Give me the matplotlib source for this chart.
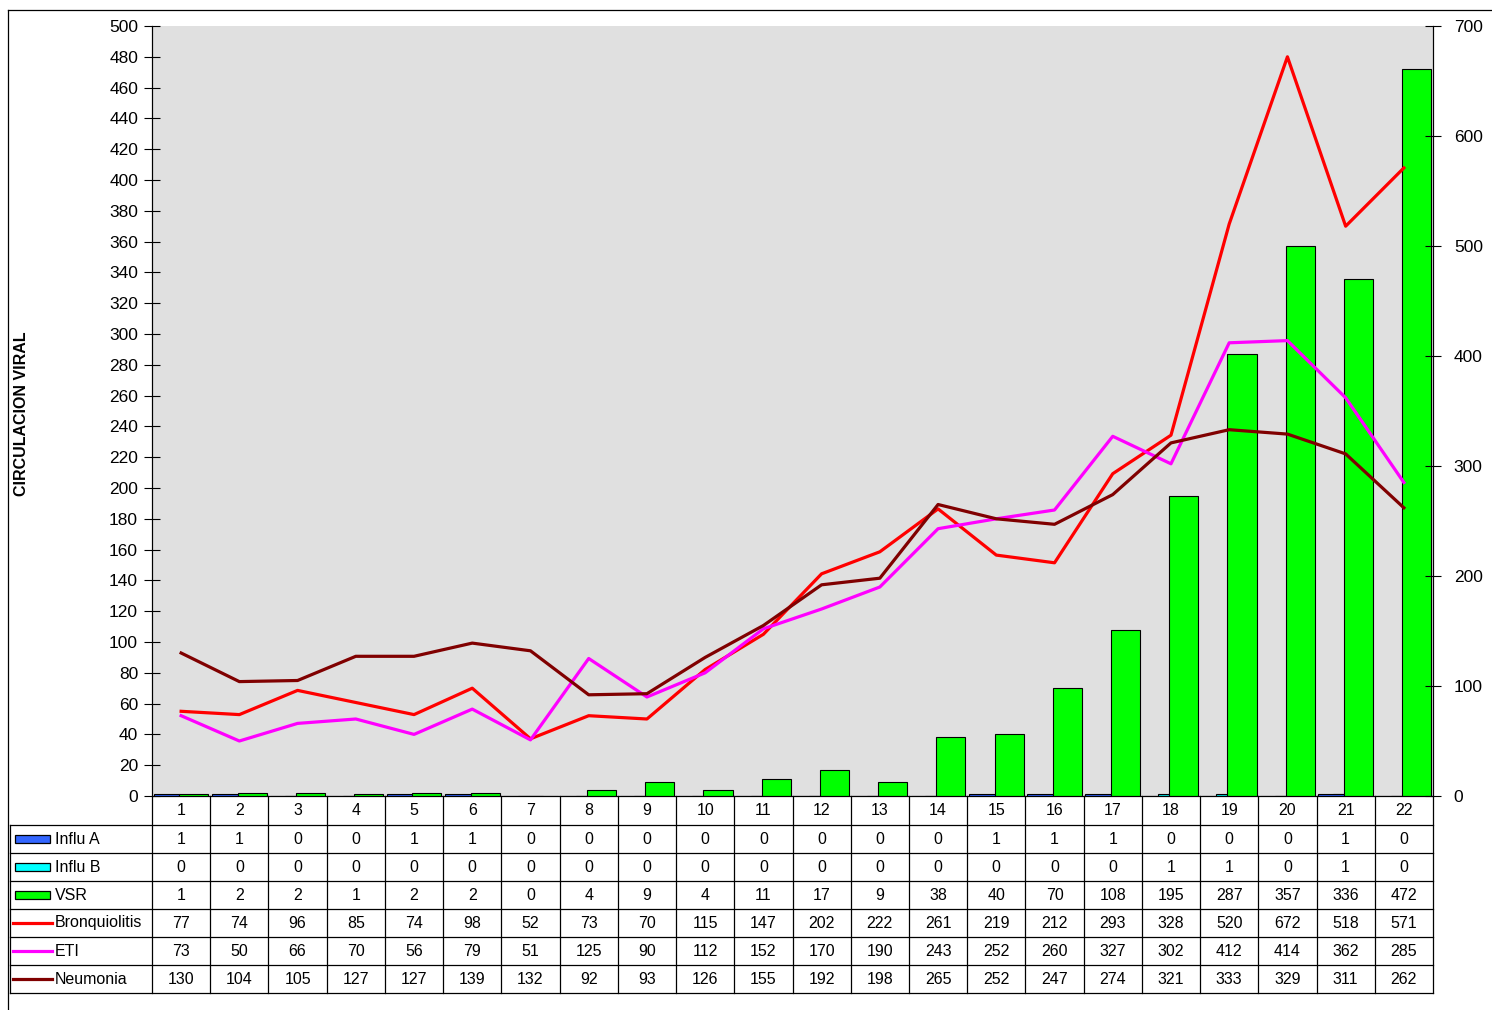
import matplotlib
matplotlib.use('Agg')
import matplotlib.pyplot as plt
from matplotlib.lines import Line2D
from matplotlib.patches import Rectangle
import numpy as np

plt.rcParams['font.family'] = ['Liberation Sans', 'DejaVu Sans']

weeks = list(range(1, 23))
influ_a = [1, 1, 0, 0, 1, 1, 0, 0, 0, 0, 0, 0, 0, 0, 1, 1, 1, 0, 0, 0, 1, 0]
influ_b = [0, 0, 0, 0, 0, 0, 0, 0, 0, 0, 0, 0, 0, 0, 0, 0, 0, 1, 1, 0, 1, 0]
vsr = [1, 2, 2, 1, 2, 2, 0, 4, 9, 4, 11, 17, 9, 38, 40, 70, 108, 195, 287, 357, 336, 472]
bronquiolitis = [77, 74, 96, 85, 74, 98, 52, 73, 70, 115, 147, 202, 222, 261, 219, 212,
                 293, 328, 520, 672, 518, 571]
eti = [73, 50, 66, 70, 56, 79, 51, 125, 90, 112, 152, 170, 190, 243, 252, 260,
       327, 302, 412, 414, 362, 285]
neumonia = [130, 104, 105, 127, 127, 139, 132, 92, 93, 126, 155, 192, 198, 265, 252, 247,
            274, 321, 333, 329, 311, 262]

W, H = 1492, 1010
fig = plt.figure(figsize=(W / 100, H / 100), dpi=100)


def fx(px):
    return px / W


def fy(py):
    return 1 - py / H


L, R, T, B = 152, 1433, 26, 796
ax = fig.add_axes([fx(L), fy(B), fx(R) - fx(L), fy(T) - fy(B)])
ax.set_facecolor('#e0e0e0')
x = np.array(weeks)

ax.bar(x - 0.25, influ_a, width=0.44, color='#3366ff', edgecolor='black', linewidth=0.8, zorder=2)
ax.bar(x, influ_b, width=0.44, color='#00ffff', edgecolor='black', linewidth=0.8, zorder=1)
ax.bar(x + 0.22, vsr, width=0.5, color='#00ff00', edgecolor='black', linewidth=0.8, zorder=3)
ax.set_xlim(0.5, 22.5)
ax.set_ylim(0, 500)
ax.set_yticks(range(0, 501, 20))
ax.set_xticks([])
ax.tick_params(axis='y', direction='inout', length=12, labelsize=12.5, pad=4)
ax.set_ylabel('CIRCULACION VIRAL', fontsize=11.5, fontweight='bold')
ax.yaxis.set_label_coords(-0.096, 0.497)
ax.spines['top'].set_visible(False)

ax2 = ax.twinx()
ax2.plot(x, bronquiolitis, color='#ff0000', lw=2.3, zorder=5)
ax2.plot(x, eti, color='#ff00ff', lw=2.3, zorder=5)
ax2.plot(x, neumonia, color='#800000', lw=2.3, zorder=5)
ax2.set_ylim(0, 700)
ax2.set_yticks(range(0, 701, 100))
ax2.tick_params(axis='y', direction='inout', length=12, labelsize=12.5, pad=9)
ax2.spines['top'].set_visible(False)
fig.text(fx(1497), fy(411), 'IRA', rotation=-90, fontsize=11, fontweight='bold',
         ha='center', va='center')

# data table
ncol = len(weeks)
colw = (R - L) / ncol
rows_y = [796, 825, 853, 881, 909, 937, 965, 993]
lk = dict(color='black', lw=0.9, transform=fig.transFigure)
for yy in rows_y[1:]:
    fig.add_artist(Line2D([fx(10), fx(R)], [fy(yy), fy(yy)], **lk))
fig.add_artist(Line2D([fx(10), fx(10)], [fy(825), fy(993)], **lk))
for k in range(ncol + 1):
    xx = L + k * colw
    fig.add_artist(Line2D([fx(xx), fx(xx)], [fy(796), fy(993)], **lk))

table_rows = [weeks, influ_a, influ_b, vsr, bronquiolitis, eti, neumonia]
for r, vals in enumerate(table_rows):
    yc = (rows_y[r] + rows_y[r + 1]) / 2
    for k, v in enumerate(vals):
        fig.text(fx(L + (k + 0.5) * colw), fy(yc), str(v), fontsize=11.5,
                 ha='center', va='center')

names = ['Influ A', 'Influ B', 'VSR', 'Bronquiolitis', 'ETI', 'Neumonia']
colors = ['#3366ff', '#00ffff', '#00ff00', '#ff0000', '#ff00ff', '#800000']
for r, (nm, c) in enumerate(zip(names, colors)):
    yc = (rows_y[r + 1] + rows_y[r + 2]) / 2
    if r < 3:
        fig.add_artist(Rectangle((fx(15), fy(yc + 4)), fx(50) - fx(15), fy(yc - 4) - fy(yc + 4),
                                 facecolor=c, edgecolor='black', lw=0.9,
                                 transform=fig.transFigure))
    else:
        fig.add_artist(Line2D([fx(13), fx(52)], [fy(yc), fy(yc)], color=c, lw=2.3,
                              transform=fig.transFigure))
    fig.text(fx(55), fy(yc), nm, fontsize=11.5, ha='left', va='center')

# outer frame
fig.add_artist(Line2D([fx(8), fx(W)], [fy(10), fy(10)], **lk))
fig.add_artist(Line2D([fx(8), fx(8)], [fy(10), fy(H)], **lk))

fig.savefig('out.png', dpi=100)
